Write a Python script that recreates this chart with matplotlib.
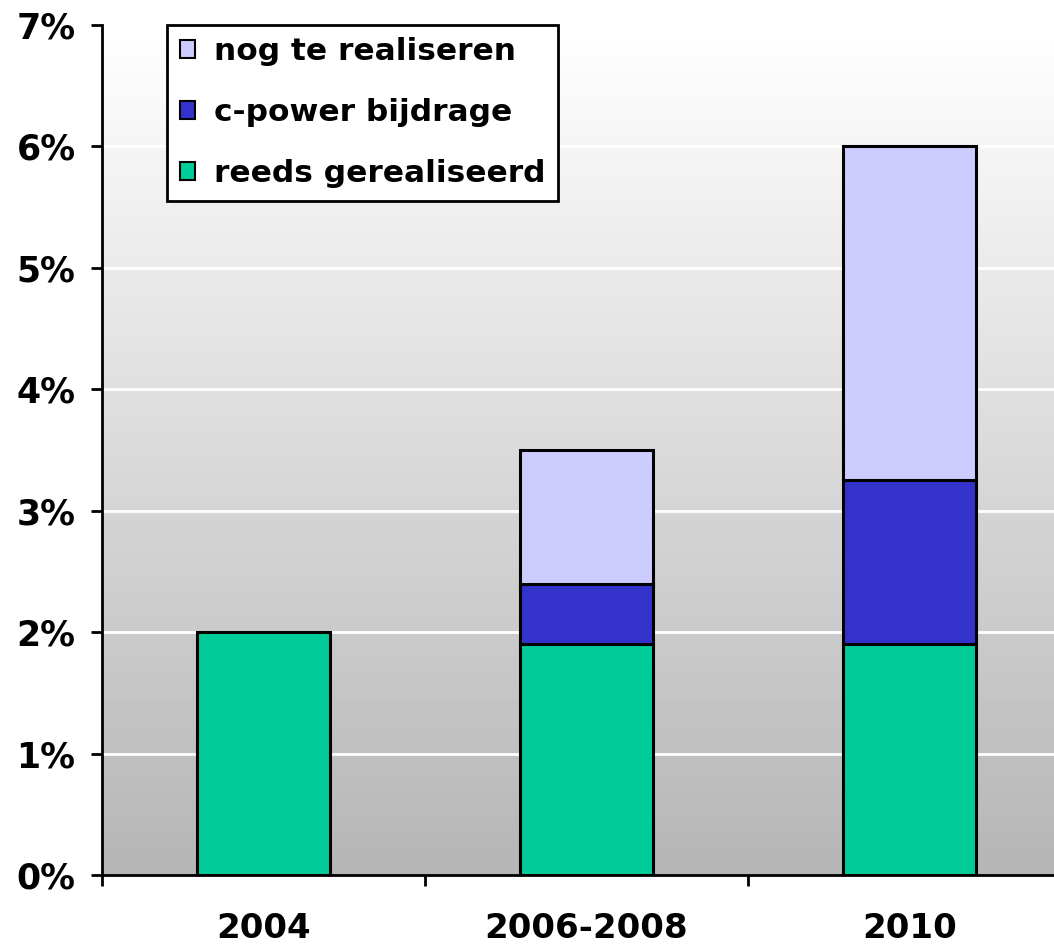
import numpy as np
import matplotlib.pyplot as plt
from matplotlib.patches import Patch
from matplotlib.ticker import FuncFormatter

# Data (percent)
categories = ["2004", "2006-2008", "2010"]
reeds_gerealiseerd = [2.0, 1.9, 1.9]
cpower_bijdrage = [0.0, 0.5, 1.35]
nog_te_realiseren = [0.0, 1.1, 2.75]

series_labels = ["reeds gerealiseerd", "c-power bijdrage", "nog te realiseren"]
colors = ["#00CC99", "#3333CC", "#CCCCFF"]

plt.rcParams['font.family'] = ['DejaVu Sans']
plt.rcParams['font.weight'] = 'bold'

fig = plt.figure(figsize=(10.54, 9.47), dpi=100)
ax = fig.add_axes([102 / 1054, 1 - 875 / 947, 969 / 1054, 850 / 947])

x = np.arange(len(categories))
ax.set_xlim(-0.5, len(categories) - 0.5)
ax.set_ylim(0, 7)

# gradient background (white at top -> grey at bottom)
grad = np.linspace(1.0, 0.71, 256).reshape(-1, 1)
ax.imshow(grad, cmap='gray', vmin=0, vmax=1, aspect='auto', origin='upper',
          extent=(-0.5, len(categories) - 0.5, 0, 7), zorder=0)

# white gridlines
for yv in range(1, 7):
    ax.axhline(yv, color='white', lw=2, zorder=1)

# stacked bars
bottom = np.zeros(len(categories))
for vals, col in zip([reeds_gerealiseerd, cpower_bijdrage, nog_te_realiseren], colors):
    vals = np.array(vals)
    mask = vals > 0
    ax.bar(x[mask], vals[mask], bottom=bottom[mask], width=0.41, color=col,
           edgecolor='black', linewidth=2.2, zorder=3)
    bottom += vals

# axes styling
for side in ['top', 'right']:
    ax.spines[side].set_visible(False)
for side in ['left', 'bottom']:
    ax.spines[side].set_linewidth(2)

ax.set_yticks(range(0, 8))
ax.yaxis.set_major_formatter(FuncFormatter(lambda v, p: f"{int(v)}%"))
ax.tick_params(axis='y', length=8, width=2, pad=11, labelsize=25)

# ticks at category boundaries, labels in the middle
ax.set_xticks(np.arange(-0.5, len(categories), 1.0))
ax.set_xticklabels([])
ax.tick_params(axis='x', which='major', length=8, width=2)
ax.set_xticks(x, minor=True)
ax.set_xticklabels(categories, minor=True)
ax.tick_params(axis='x', which='minor', length=0, pad=27, labelsize=24.5)

# legend (top series first)
handles = [Patch(facecolor=colors[i], edgecolor='black', linewidth=1.5)
           for i in [2, 1, 0]]
labels = [series_labels[i] for i in [2, 1, 0]]
leg = fig.legend(handles, labels, loc='upper left',
                 bbox_to_anchor=(167 / 1054, 1 - 25 / 947),
                 borderaxespad=0, fancybox=False, framealpha=1,
                 edgecolor='black', facecolor='white',
                 fontsize=22.5, handlelength=0.5, handleheight=0.5,
                 handletextpad=0.6, labelspacing=1.02, borderpad=0.4)
leg.get_frame().set_linewidth(2)

fig.savefig("out.png", dpi=100)
